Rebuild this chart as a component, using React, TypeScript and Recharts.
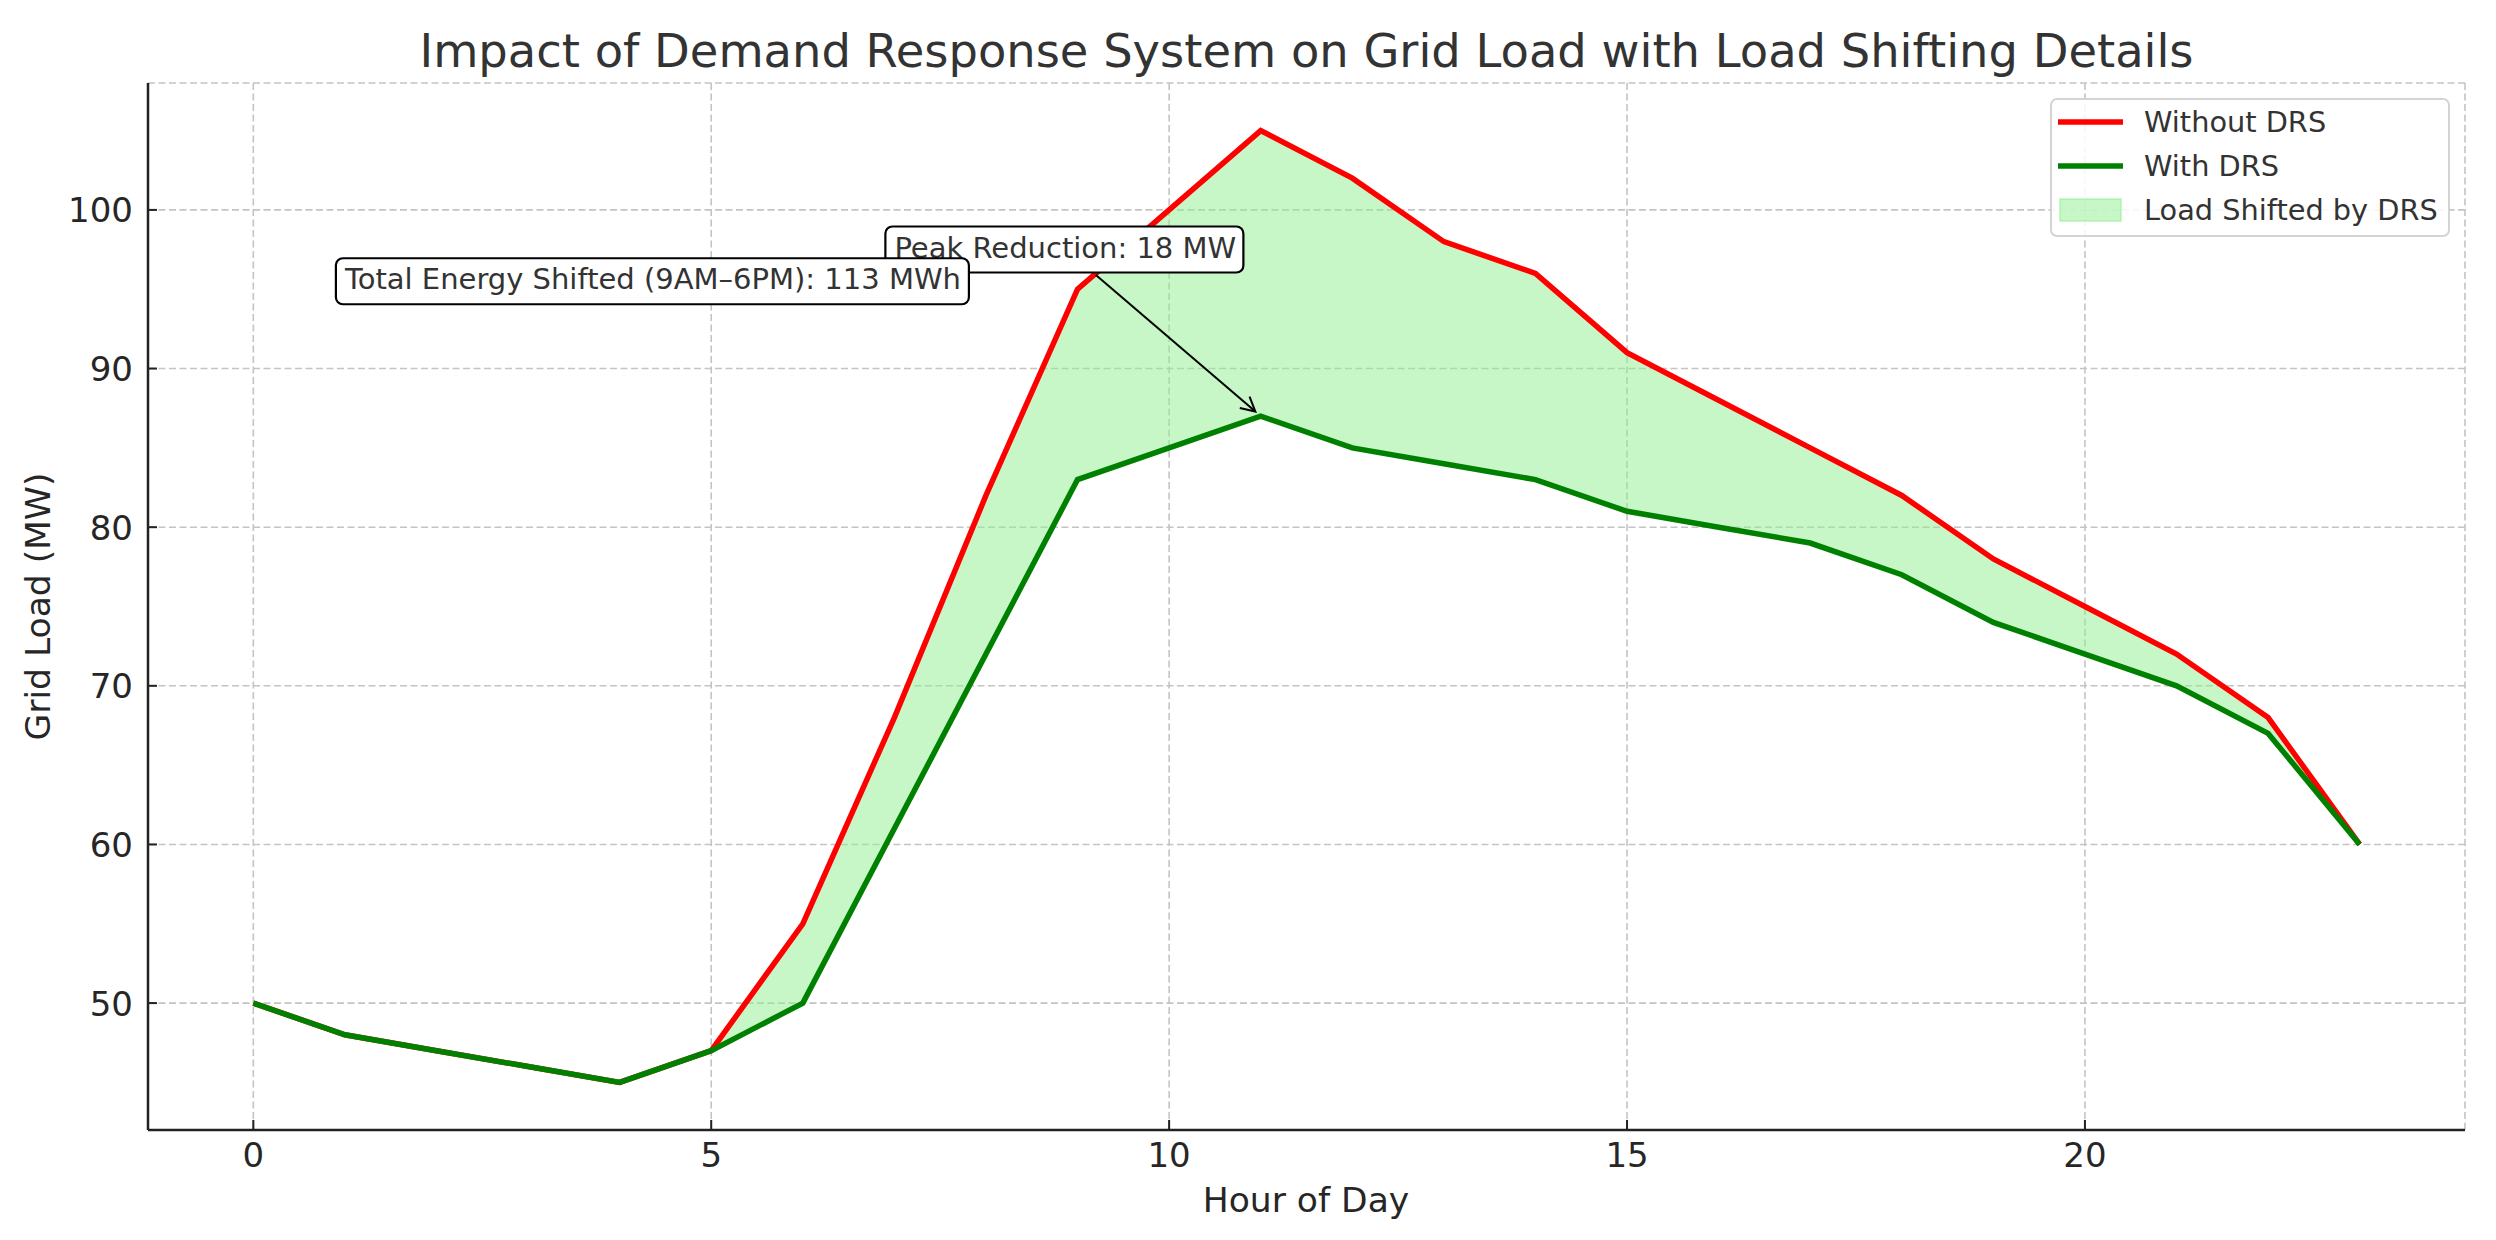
import React from 'react';
import {
  ComposedChart,
  Line,
  Area,
  XAxis,
  YAxis,
  CartesianGrid,
  ReferenceDot,
  ReferenceLine,
  Legend,
} from 'recharts';

const hours = [0, 1, 2, 3, 4, 5, 6, 7, 8, 9, 10, 11, 12, 13, 14, 15, 16, 17, 18, 19, 20, 21, 22, 23];
const withoutDRS = [50, 48, 47, 46, 45, 47, 55, 68, 82, 95, 100, 105, 102, 98, 96, 91, 88, 85, 82, 78, 75, 72, 68, 60];
const withDRS = [50, 48, 47, 46, 45, 47, 50, 61, 72, 83, 85, 87, 85, 84, 83, 81, 80, 79, 77, 74, 72, 70, 67, 60];
const xTicks = [0, 5, 10, 15, 20];
const yTicks = [50, 60, 70, 80, 90, 100];

const title = 'Impact of Demand Response System on Grid Load with Load Shifting Details';
const xLabel = 'Hour of Day';
const yLabel = 'Grid Load (MW)';
const energyText = 'Total Energy Shifted (9AM\u20136PM): 113 MWh';
const peakText = 'Peak Reduction: 18 MW';
const energyPos = { x: 1, y: 95 };
const peakPos = { x: 7, y: 97 };
const arrowFrom = { x: 9.2, y: 95.9 };
const arrowTo = { x: 11, y: 87 };

const data = hours.map((h, i) => ({
  hour: h,
  without: withoutDRS[i],
  with: withDRS[i],
  shifted: [withDRS[i], withoutDRS[i]],
}));

const FONT = 'DejaVu Sans';

const XTick = (p: any) => {
  const { x, y, payload } = p;
  return (
    <g>
      <line x1={x} x2={x} y1={y - 12} y2={y - 22} stroke="#222" strokeWidth={2} />
      <text x={x} y={y + 25} textAnchor="middle" fontFamily={FONT} fontSize={34} fill="#262626">
        {payload.value}
      </text>
    </g>
  );
};

const YTick = (p: any) => {
  const { x, y, payload } = p;
  return (
    <g>
      <line x1={x + 15} x2={x + 24} y1={y} y2={y} stroke="#222" strokeWidth={2} />
      <text x={x} y={y + 12.5} textAnchor="end" fontFamily={FONT} fontSize={34} fill="#262626">
        {payload.value}
      </text>
    </g>
  );
};

const makeBox = (text: string, width: number) => (p: any) => {
  const { cx, cy } = p;
  return (
    <g>
      <rect
        x={cx - 9}
        y={cy - 31}
        width={width}
        height={46}
        rx={7}
        ry={7}
        fill="#ffffff"
        stroke="#000"
        strokeWidth={2.2}
      />
      <text x={cx} y={cy} fontFamily={FONT} fontSize={29} fill="#333">
        {text}
      </text>
    </g>
  );
};

const Arrow = (p: any) => {
  const { x1, y1, x2, y2 } = p;
  const dx = x2 - x1;
  const dy = y2 - y1;
  const len = Math.sqrt(dx * dx + dy * dy);
  const ux = dx / len;
  const uy = dy / len;
  const tx = x2 - ux * 7;
  const ty = y2 - uy * 7;
  const hl = 16;
  const ang = (28 * Math.PI) / 180;
  const c = Math.cos(ang);
  const s = Math.sin(ang);
  const h1x = tx - hl * (ux * c - uy * s);
  const h1y = ty - hl * (uy * c + ux * s);
  const h2x = tx - hl * (ux * c + uy * s);
  const h2y = ty - hl * (uy * c - ux * s);
  return (
    <g>
      <line x1={x1} y1={y1} x2={tx} y2={ty} stroke="#000" strokeWidth={2} />
      <polyline points={`${h1x},${h1y} ${tx},${ty} ${h2x},${h2y}`} fill="none" stroke="#000" strokeWidth={2} />
    </g>
  );
};

const legendItems = [
  { label: 'Without DRS', kind: 'line', color: '#ff0000' },
  { label: 'With DRS', kind: 'line', color: '#008000' },
  { label: 'Load Shifted by DRS', kind: 'patch', color: '#90ee90' },
];

const LegendBox = () => (
  <div
    style={{
      width: 400,
      height: 139,
      border: '2px solid #d4d4d4',
      borderRadius: 7,
      background: 'rgba(255,255,255,0.85)',
      boxSizing: 'border-box',
      position: 'relative',
    }}
  >
    {legendItems.map((it, i) => (
      <div
        key={it.label}
        style={{
          position: 'absolute',
          left: 0,
          top: 2 + i * 44,
          height: 40,
          display: 'flex',
          alignItems: 'center',
        }}
      >
        <svg width={90} height={40} style={{ display: 'block' }}>
          {it.kind === 'line' ? (
            <line x1={6} x2={71} y1={20} y2={20} stroke={it.color} strokeWidth={5.5} />
          ) : (
            <rect x={8} y={9} width={61} height={22} fill={it.color} fillOpacity={0.5} stroke={it.color} strokeOpacity={0.6} strokeWidth={1.5} />
          )}
        </svg>
        <span style={{ fontFamily: FONT, fontSize: 28.8, color: '#333', whiteSpace: 'nowrap', marginLeft: 2 }}>
          {it.label}
        </span>
      </div>
    ))}
  </div>
);

export default function App() {
  return (
    <div style={{ position: 'absolute', left: 0, top: 0, width: 2496, height: 1240, background: '#fff' }}>
      <ComposedChart
        width={2496}
        height={1240}
        data={data}
        margin={{ top: 83, right: 31, bottom: 0, left: 0 }}
      >
        <CartesianGrid stroke="#c4c4c4" strokeDasharray="7 3.5" strokeWidth={1.6} />
        <XAxis
          dataKey="hour"
          type="number"
          domain={[-1.15, 24.15]}
          ticks={xTicks}
          height={110}
          tickSize={0}
          tickMargin={12}
          tickLine={false}
          axisLine={{ stroke: '#222', strokeWidth: 2.5 }}
          tick={XTick}
          allowDataOverflow
        />
        <YAxis
          type="number"
          domain={[42, 108]}
          ticks={yTicks}
          width={148}
          tickSize={0}
          tickMargin={15}
          tickLine={false}
          axisLine={{ stroke: '#222', strokeWidth: 2.5 }}
          tick={YTick}
          allowDataOverflow
        />
        <Area
          dataKey="shifted"
          type="linear"
          fill="#90ee90"
          fillOpacity={0.5}
          stroke="none"
          isAnimationActive={false}
          activeDot={false}
          dot={false}
        />
        <Line
          dataKey="without"
          type="linear"
          stroke="#ff0000"
          strokeWidth={5.5}
          dot={false}
          activeDot={false}
          isAnimationActive={false}
        />
        <Line
          dataKey="with"
          type="linear"
          stroke="#008000"
          strokeWidth={5.5}
          dot={false}
          activeDot={false}
          isAnimationActive={false}
        />
        <ReferenceLine
          segment={[arrowFrom, arrowTo]}
          shape={Arrow}
          ifOverflow="visible"
        />
        <ReferenceDot x={peakPos.x} y={peakPos.y} shape={makeBox(peakText, 358)} ifOverflow="visible" />
        <ReferenceDot x={energyPos.x} y={energyPos.y} shape={makeBox(energyText, 633)} ifOverflow="visible" />
        <Legend
          layout="horizontal"
          verticalAlign="middle"
          align="center"
          content={() => <LegendBox />}
          wrapperStyle={{ position: 'absolute', left: 2050, top: 98, width: 400, height: 139 }}
        />
        <text x={1306.5} y={67} textAnchor="middle" fontFamily={FONT} fontSize={46.4} fill="#333">
          {title}
        </text>
        <text x={1306} y={1212} textAnchor="middle" fontFamily={FONT} fontSize={34.5} fill="#262626">
          {xLabel}
        </text>
        <text
          x={50}
          y={606.5}
          textAnchor="middle"
          fontFamily={FONT}
          fontSize={34.5}
          fill="#262626"
          transform="rotate(-90 50 606.5)"
        >
          {yLabel}
        </text>
      </ComposedChart>
    </div>
  );
}
